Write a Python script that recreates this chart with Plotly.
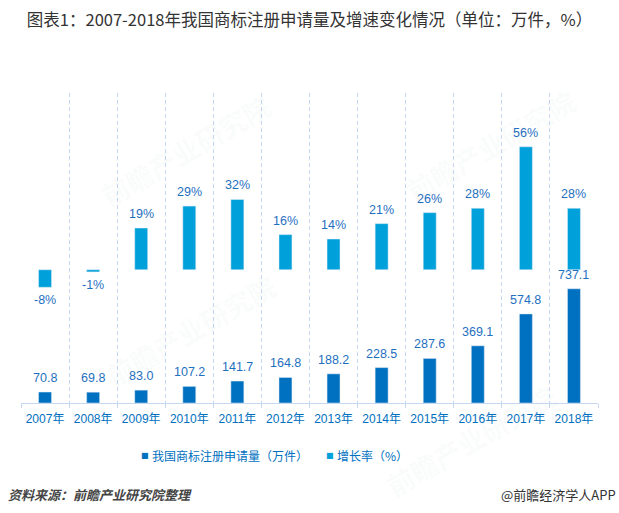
import plotly.graph_objects as go

# ---- data ----
years = ["2007年", "2008年", "2009年", "2010年", "2011年", "2012年",
         "2013年", "2014年", "2015年", "2016年", "2017年", "2018年"]
applications = [70.8, 69.8, 83.0, 107.2, 141.7, 164.8, 188.2, 228.5, 287.6, 369.1, 574.8, 737.1]
growth = [-8, -1, 19, 29, 32, 16, 14, 21, 26, 28, 56, 28]
series_names = ["我国商标注册申请量（万件）", "增长率（%）"]
title_text = "图表1：2007-2018年我国商标注册申请量及增速变化情况（单位：万件，%）"
source_text = "资料来源：前瞻产业研究院整理"
brand_text = "@前瞻经济学人APP"

# ---- style ----
W, H = 619, 513
ML, MR, MT, MB = 21, 21, 93, 110
DARK = "#0070C0"
LIGHT = "#00A0DA"
LABEL = "#1F6FBF"
GRID = "#C6D7F2"
FONT = "Liberation Sans, Arial, Noto Sans CJK SC, sans-serif"
CJK = "Noto Sans CJK SC, sans-serif"

pw = W - ML - MR
ph = H - MT - MB


def px_x(x):
    return (x - ML) / pw


def px_y(y):
    return (H - MB - y) / ph


fig = go.Figure()
fig.add_trace(go.Bar(x=years, y=applications, name=series_names[0], marker_color=DARK,
                     width=0.27, yaxis="y", showlegend=False, hoverinfo="skip"))
fig.add_trace(go.Bar(x=years, y=growth, name=series_names[1], marker_color=LIGHT,
                     width=0.27, yaxis="y2", showlegend=False, hoverinfo="skip"))

ann = []
for x, v in zip(years, applications):
    ann.append(dict(x=x, y=v, xref="x", yref="y", text=f"{v:.1f}", showarrow=False,
                    yanchor="middle", yshift=14, font=dict(size=12.5, color=LABEL, family=FONT)))
for x, v in zip(years, growth):
    ann.append(dict(x=x, y=v, xref="x", yref="y2", text=f"{v}%", showarrow=False,
                    yanchor="middle", yshift=14 if v >= 0 else -13,
                    font=dict(size=12.5, color=LABEL, family=FONT)))

# legend (custom, small square keys)
ann.append(dict(x=px_x(144.5), y=px_y(455), xref="paper", yref="paper", text="■", showarrow=False,
                xanchor="center", yanchor="middle", font=dict(size=8, color=DARK, family="DejaVu Sans")))
ann.append(dict(x=px_x(150), y=px_y(455), xref="paper", yref="paper", text=series_names[0],
                showarrow=False, xanchor="left", yanchor="middle",
                font=dict(size=12, color=DARK, family=CJK)))
ann.append(dict(x=px_x(330), y=px_y(455), xref="paper", yref="paper", text="■", showarrow=False,
                xanchor="center", yanchor="middle", font=dict(size=8, color=LIGHT, family="DejaVu Sans")))
ann.append(dict(x=px_x(335), y=px_y(455), xref="paper", yref="paper", text=series_names[1],
                showarrow=False, xanchor="left", yanchor="middle",
                font=dict(size=12, color=DARK, family=CJK)))

# footer
ann.append(dict(x=px_x(6), y=px_y(494), xref="paper", yref="paper",
                text="<i><b>" + source_text + "</b></i>", showarrow=False,
                xanchor="left", yanchor="middle", font=dict(size=13, color="#444444", family=CJK)))
ann.append(dict(x=px_x(618), y=px_y(494), xref="paper", yref="paper", text=brand_text,
                showarrow=False, xanchor="right", yanchor="middle",
                font=dict(size=13, color="#333333", family=CJK)))

# faint watermarks
for cx, cy in [(185, 150), (190, 330), (490, 145), (470, 440)]:
    ann.append(dict(x=px_x(cx), y=px_y(cy), xref="paper", yref="paper", text="<b>前瞻产业研究院</b>",
                    showarrow=False, textangle=-30, xanchor="center", yanchor="middle",
                    font=dict(size=27, color="rgba(120,130,140,0.05)", family=CJK)))

fig.update_layout(
    width=W, height=H,
    margin=dict(l=ML, r=MR, t=MT, b=MB),
    paper_bgcolor="white", plot_bgcolor="white",
    barmode="overlay",
    showlegend=False,
    hovermode=False,
    title=dict(text=title_text, x=0.5, xref="container", xanchor="center",
               y=1 - 20 / H, yref="container", yanchor="middle",
               font=dict(size=16.5, color="#333333", family=CJK)),
    xaxis=dict(type="category", tickson="boundaries", showgrid=True, gridcolor=GRID,
               griddash="4px,3px", gridwidth=1, showline=True, linecolor=GRID, linewidth=1,
               ticks="outside", ticklen=4, tickcolor=GRID, ticklabelstandoff=5,
               tickfont=dict(size=12, color=DARK, family=FONT), range=[-0.5, 11.5]),
    yaxis=dict(range=[0, 2000], visible=False, showgrid=False, zeroline=False, fixedrange=True),
    yaxis2=dict(range=[-60.7, 80.5], overlaying="y", visible=False, showgrid=False,
                zeroline=False),
    annotations=ann,
)

fig.write_html("out.html", config={"displayModeBar": False},
               post_script="document.body.style.margin='0';document.body.style.overflow='hidden';")
